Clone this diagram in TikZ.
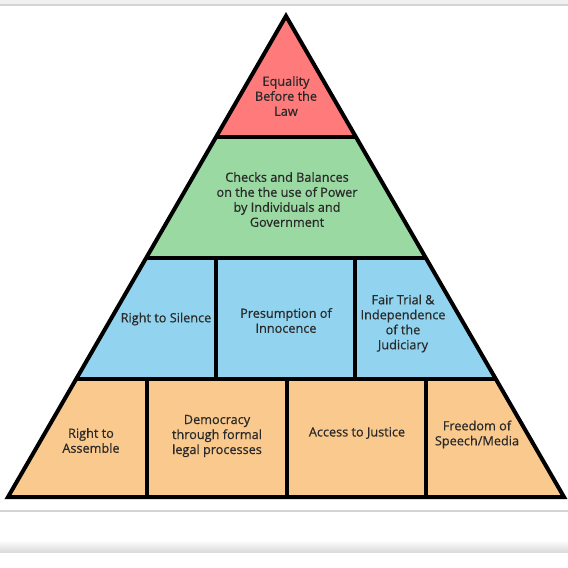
\documentclass[tikz,border=0pt]{standalone}
\usepackage{fontspec}
\setmainfont[FakeBold=0.6]{Open Sans}
\usepackage{tikz}
\usetikzlibrary{calc}
\definecolor{tierred}{HTML}{FF7B7B}
\definecolor{tiergreen}{HTML}{9AD9A2}
\definecolor{tierblue}{HTML}{92D4EF}
\definecolor{tierorange}{HTML}{FAC98E}
\definecolor{inktext}{HTML}{2A2A2A}
\definecolor{paneline}{HTML}{D4D4D4}
\tikzset{lbl/.style={align=center,text=inktext,inner sep=0pt,font=\fontsize{12.7}{15}\selectfont},
  edge/.style={line width=4pt,black,line join=miter}}

\begin{document}
\begin{tikzpicture}[x=1pt,y=-1pt]
\useasboundingbox (0,0) rectangle (568,568);
% window frame
\fill[black!6] (0,0) rectangle (568,5);
\draw[paneline,line width=1.5pt] (0,5) -- (568,5);
\draw[paneline,line width=1.5pt] (0,511) -- (568,511);
\shade[top color=white,bottom color=black!14] (0,540) rectangle (568,552);
% corners of the pyramid
\coordinate (apex) at (286,16);
\coordinate (bl) at (8,497);
\coordinate (br) at (564,497);
% tiers
\fill[tierred] (apex) -- (215,137) -- (357,137) -- cycle;
\fill[tiergreen] (215,137) -- (146,258) -- (426,258) -- (357,137) -- cycle;
\fill[tierblue] (146,258) -- (76,379) -- (496,379) -- (426,258) -- cycle;
\fill[tierorange] (76,379) -- (bl) -- (br) -- (496,379) -- cycle;
% outline and dividers
\draw[edge] (apex) -- (bl) -- (br) -- cycle;
\foreach \y/\xa/\xb in {137/215/357,258/146/426,379/76/496}{\draw[edge] (\xa,\y) -- (\xb,\y);}
\foreach \x in {216,355}{\draw[edge] (\x,258) -- (\x,379);}
\foreach \x in {147,287,426}{\draw[edge] (\x,379) -- (\x,497);}
% labels
\node[lbl] (equality) at (286,96) {Equality\\Before the\\Law};
\node[lbl] (checks) at (287,199.5) {Checks and Balances\\on the the use of Power\\by Individuals and\\Government};
\node[lbl] (silence) at (166,319) {Right to Silence};
\node[lbl] (innocence) at (286,320.5) {Presumption of\\Innocence};
\node[lbl] (fairtrial) at (403,323.5) {Fair Trial \&\\Independence\\of the\\Judiciary};
\node[lbl] (assemble) at (91,440.5) {Right to\\Assemble};
\node[lbl] (democracy) at (217,436) {Democracy\\through formal\\legal processes};
\node[lbl] (justice) at (357,433) {Access to Justice};
\node[lbl] (speech) at (477,434.5) {Freedom of\\Speech/Media};
\end{tikzpicture}
\end{document}
